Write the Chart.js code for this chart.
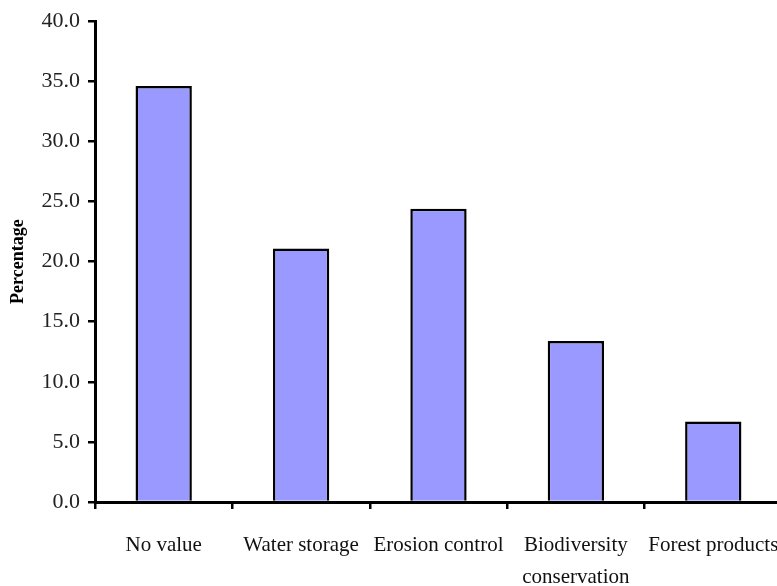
<!DOCTYPE html>
<html>
<head>
<meta charset="utf-8">
<script src="https://cdn.jsdelivr.net/npm/chart.js@4/dist/chart.umd.min.js"></script>
<style>
  html, body { margin: 0; padding: 0; background: #fff; overflow: hidden; }
  #wrap { position: absolute; left: 0; top: 0; width: 800px; height: 586px; }
</style>
</head>
<body>
<div id="wrap"><canvas id="c" width="800" height="586"></canvas></div>
<script>
const categories = ["No value", "Water storage", "Erosion control", ["Biodiversity", "conservation"], "Forest products"];
const percentages = [34.6, 21.1, 24.4, 13.4, 6.7];
const yTitle = "Percentage";

new Chart(document.getElementById('c'), {
  type: 'bar',
  data: {
    labels: categories,
    datasets: [{
      data: percentages,
      backgroundColor: '#9999ff',
      borderColor: '#000000',
      borderWidth: 2.5,
      barPercentage: 0.41,
      categoryPercentage: 1.0
    }]
  },
  options: {
    responsive: false,
    animation: false,
    devicePixelRatio: 1,
    layout: { padding: { left: 0, right: 17, top: 21, bottom: 0 } },
    plugins: { legend: { display: false }, tooltip: { enabled: false } },
    scales: {
      x: {
        grid: { display: true, offset: true, drawOnChartArea: false, drawTicks: true, tickLength: 7, color: '#000', lineWidth: 2.5 },
        border: { display: true, color: '#000', width: 3 },
        ticks: {
          color: '#111',
          font: { family: '"Liberation Serif", "Times New Roman", serif', size: 21, lineHeight: 1.55 },
          maxRotation: 0, minRotation: 0, autoSkip: false, padding: 20
        },
        afterFit: (s) => { s.height = 84; }
      },
      y: {
        min: 0, max: 40,
        grid: { display: true, drawOnChartArea: false, drawTicks: true, tickLength: 7, color: '#000', lineWidth: 2.5 },
        border: { display: true, color: '#000', width: 3 },
        ticks: {
          stepSize: 5,
          color: '#222',
          font: { family: '"Liberation Serif", "Times New Roman", serif', size: 22 },
          padding: 8,
          callback: (v) => Number(v).toFixed(1)
        },
        title: {
          display: true, text: yTitle, color: '#000',
          font: { family: '"Liberation Serif", "Times New Roman", serif', size: 18, weight: 'bold' },
          padding: { top: 8, bottom: 0 }
        },
        afterFit: (s) => { s.width = 95; }
      }
    }
  }
});
</script>
</body>
</html>
